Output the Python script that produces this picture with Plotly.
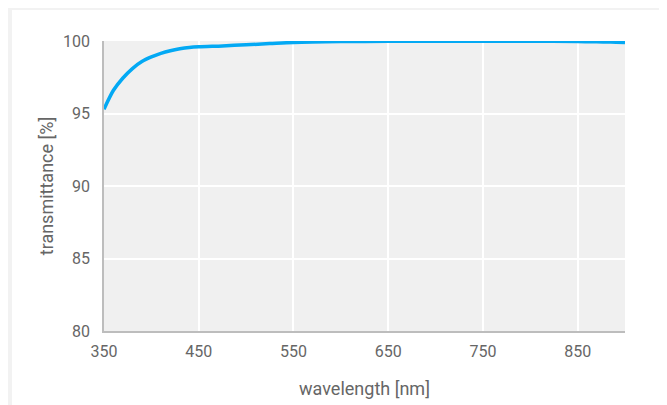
import plotly.graph_objects as go

wavelength = [350, 360, 370, 380, 390, 400, 410, 420, 430, 440, 450, 475, 500, 525, 550,
              600, 650, 700, 750, 800, 850, 870, 885, 900]
transmittance = [95.3, 96.6, 97.45, 98.1, 98.58, 98.9, 99.15, 99.33, 99.46, 99.55, 99.6,
                 99.66, 99.74, 99.82, 99.9, 99.96, 99.98, 99.98, 99.98, 99.98, 99.97,
                 99.94, 99.93, 99.9]
x_ticks = [350, 450, 550, 650, 750, 850]
y_ticks = [80, 85, 90, 95, 100]

fig = go.Figure(go.Scatter(
    x=wavelength, y=transmittance, mode="lines",
    line=dict(color="#03a9f4", width=3.5, shape="spline", smoothing=0.8),
    hoverinfo="skip", showlegend=False))

gray = "#f2f2f2"
for (x0, x1, y0, y1) in [(-0.3, -0.1766, -0.4, 1.2), (1.0787, 1.2, -0.4, 1.2),
                         (-0.3, 1.2, 1.1069, 1.2)]:
    fig.add_shape(type="rect", xref="paper", yref="paper", x0=x0, x1=x1, y0=y0, y1=y1,
                  fillcolor=gray, line=dict(width=0), layer="below")

fig.update_layout(
    width=667, height=405,
    margin=dict(l=96, r=50, t=33, b=82),
    paper_bgcolor="white", plot_bgcolor="#f0f0f0",
    font=dict(family="Roboto", color="#666666", size=16),
    xaxis=dict(range=[350, 900], tickvals=x_ticks, ticktext=[str(v) for v in x_ticks],
               showgrid=True, gridcolor="white", gridwidth=1.5,
               showline=True, linecolor="#bdbdbd", linewidth=1.5, zeroline=False,
               ticks="outside", ticklen=5, tickcolor="rgba(0,0,0,0)", tickfont=dict(size=16),
               title=dict(text="wavelength [nm]", font=dict(size=18), standoff=22)),
    yaxis=dict(range=[80, 100], tickvals=y_ticks, ticktext=[str(v) for v in y_ticks],
               showgrid=True, gridcolor="white", gridwidth=1.5,
               showline=True, linecolor="#bdbdbd", linewidth=1.5, zeroline=False,
               ticks="outside", ticklen=9, tickcolor="rgba(0,0,0,0)", tickfont=dict(size=16),
               title=dict(text="transmittance [%]", font=dict(size=18), standoff=5)),
)

fig.write_html("out.html")
